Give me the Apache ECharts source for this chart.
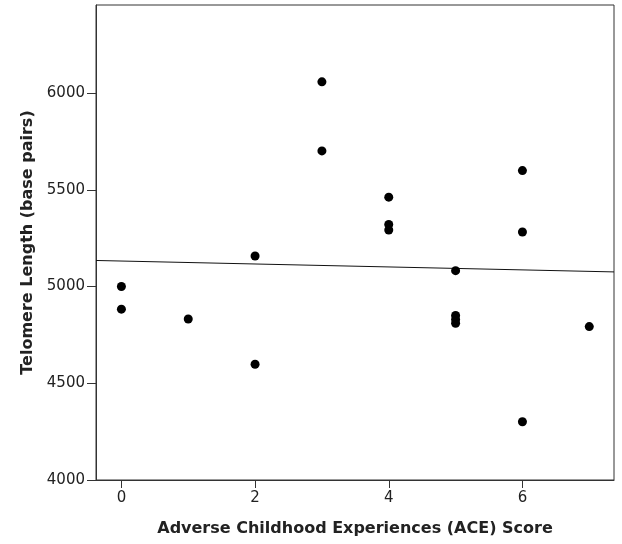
<!DOCTYPE html>
<html>
<head>
<meta charset="utf-8">
<script src="https://cdn.jsdelivr.net/npm/echarts@6/dist/echarts.min.js"></script>
<style>
  html, body { margin: 0; padding: 0; background: #fff; }
  #chart { width: 622px; height: 544px; }
</style>
</head>
<body>
<div id="chart"></div>
<script>
// ACE score per participant and measured telomere length (base pairs)
const aceScores = [0, 0, 1, 2, 2, 3, 3, 4, 4, 4, 5, 5, 5, 5, 6, 6, 6, 7];
const telomereLengths = [5000, 4883, 4832, 5158, 4598, 6058, 5701, 5462, 5321, 5292,
                         5082, 4850, 4830, 4810, 5599, 5282, 4301, 4793];
const xTicks = [0, 2, 4, 6];
const yTicks = [4000, 4500, 5000, 5500, 6000];
const xRange = [-0.38, 7.37];
const yRange = [4000, 6455];

// Ordinary least-squares fit of length on score
function linearFit(xs, ys) {
  const n = xs.length;
  const mx = xs.reduce((a, b) => a + b, 0) / n;
  const my = ys.reduce((a, b) => a + b, 0) / n;
  let sxy = 0, sxx = 0;
  for (let i = 0; i < n; i++) {
    sxy += (xs[i] - mx) * (ys[i] - my);
    sxx += (xs[i] - mx) * (xs[i] - mx);
  }
  const slope = sxy / sxx;
  return { slope, intercept: my - slope * mx };
}
const fit = linearFit(aceScores, telomereLengths);
const fitLine = xRange.map(x => [x, fit.intercept + fit.slope * x]);

const points = aceScores.map((x, i) => [x, telomereLengths[i]]);

const axisColor = '#333';
const textColor = '#222';
const font = 'DejaVu Sans';
const plain = v => String(v);

const chart = echarts.init(document.getElementById('chart'), null, { renderer: 'canvas' });
chart.setOption({
  animation: false,
  backgroundColor: '#fff',
  grid: {
    left: 96, top: 5, right: 8, bottom: 64,
    show: true, borderColor: axisColor, borderWidth: 1, backgroundColor: 'transparent'
  },
  xAxis: {
    type: 'value',
    min: xRange[0], max: xRange[1],
    name: 'Adverse Childhood Experiences (ACE) Score',
    nameLocation: 'middle',
    nameGap: 41,
    nameTextStyle: { color: textColor, fontFamily: font, fontWeight: 'bold', fontSize: 16 },
    splitLine: { show: false },
    axisLine: { show: true, onZero: false, lineStyle: { color: axisColor, width: 1 } },
    axisTick: { show: true, length: 8, customValues: xTicks, lineStyle: { color: axisColor } },
    axisLabel: {
      customValues: xTicks, formatter: plain,
      color: textColor, fontFamily: font, fontSize: 15, margin: 11
    }
  },
  yAxis: {
    type: 'value',
    min: yRange[0], max: yRange[1],
    name: 'Telomere Length (base pairs)',
    nameLocation: 'middle',
    nameGap: 60,
    nameTextStyle: { color: textColor, fontFamily: font, fontWeight: 'bold', fontSize: 16 },
    splitLine: { show: false },
    axisLine: { show: true, onZero: false, lineStyle: { color: axisColor, width: 1 } },
    axisTick: { show: true, length: 9, customValues: yTicks, lineStyle: { color: axisColor } },
    axisLabel: {
      customValues: yTicks, formatter: plain,
      color: textColor, fontFamily: font, fontSize: 15, margin: 11
    }
  },
  series: [
    {
      type: 'line',
      data: fitLine,
      symbol: 'none',
      lineStyle: { color: '#111', width: 1 },
      silent: true,
      z: 1
    },
    {
      type: 'scatter',
      data: points,
      symbol: 'circle',
      symbolSize: 9,
      itemStyle: { color: '#000', opacity: 1 },
      z: 2
    }
  ]
});
</script>
</body>
</html>
